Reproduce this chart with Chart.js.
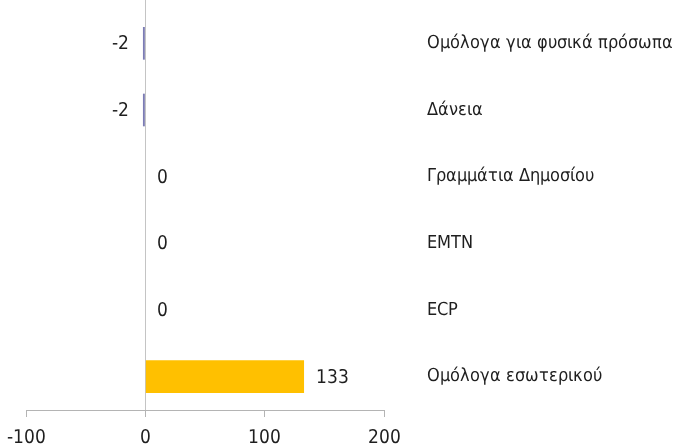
<!DOCTYPE html>
<html>
<head>
<meta charset="utf-8">
<script src="https://cdn.jsdelivr.net/npm/chart.js@4"></script>
<style>
  html, body { margin: 0; padding: 0; background: #fff; }
  #wrap { width: 676px; height: 448px; }
</style>
</head>
<body>
<div id="wrap"><canvas id="c" width="676" height="448"></canvas></div>
<script>
// κατηγορίες (από πάνω προς τα κάτω)
const categories = [
  "Ομόλογα για φυσικά πρόσωπα",
  "Δάνεια",
  "Γραμμάτια Δημοσίου",
  "EMTN",
  "ECP",
  "Ομόλογα εσωτερικού",
];
const values = [-2, -2, 0, 0, 0, 133];
const xTicks = [-100, 0, 100, 200];

const barColors = ["#7c7cb4", "#7c7cb4", "#7c7cb4", "#7c7cb4", "#7c7cb4", "#ffc000"];
const TEXT = "#1e1e1e";
const AXIS = "#b4b4b4";

// στενή γραμματοσειρά αν υπάρχει, αλλιώς DejaVu
const fontCandidates = [
  ["CondDV", "local('DejaVu Sans Condensed'), local('DejaVuSansCondensed')", 19, 18],
];

async function pickFont() {
  for (const [name, src, num, cat] of fontCandidates) {
    try {
      const f = new FontFace(name, src);
      await f.load();
      document.fonts.add(f);
      return { family: name, num, cat };
    } catch (e) {
      // δεν βρέθηκε
    }
  }
  return { family: "DejaVu Sans", num: 17, cat: 16 };
}

function draw(font) {
  // γραμμή του μηδενός, από την κορυφή ως τον άξονα
  const zeroLine = {
    id: "zeroLine",
    beforeDatasetsDraw(chart) {
      const x = Math.round(chart.scales.x.getPixelForValue(0)) + 0.5;
      const ctx = chart.ctx;
      ctx.save();
      ctx.strokeStyle = "#c4c4c4";
      ctx.lineWidth = 1;
      ctx.beginPath();
      ctx.moveTo(x, 0);
      ctx.lineTo(x, chart.chartArea.bottom);
      ctx.stroke();
      ctx.restore();
    },
  };

  // ετικέτες τιμών δίπλα στις μπάρες
  const valueLabels = {
    id: "valueLabels",
    afterDatasetsDraw(chart) {
      const ctx = chart.ctx;
      const meta = chart.getDatasetMeta(0);
      ctx.save();
      ctx.font = font.num + "px " + font.family;
      ctx.fillStyle = TEXT;
      ctx.textBaseline = "middle";
      meta.data.forEach((bar, i) => {
        const v = values[i];
        if (v < 0) {
          ctx.textAlign = "right";
          ctx.fillText(String(v), bar.x - 14, bar.y + 1);
        } else {
          ctx.textAlign = "left";
          ctx.fillText(String(v), bar.x + 12, bar.y + 1);
        }
      });
      ctx.restore();
    },
  };

  new Chart(document.getElementById("c"), {
    type: "bar",
    data: {
      labels: categories,
      datasets: [{
        data: values,
        backgroundColor: barColors,
        borderWidth: 0,
        categoryPercentage: 1,
        barPercentage: 0.49,
      }],
    },
    options: {
      indexAxis: "y",
      responsive: false,
      animation: false,
      layout: { padding: { left: 26, top: 10, right: 0, bottom: 0 } },
      plugins: {
        legend: { display: false },
        tooltip: { enabled: false },
      },
      scales: {
        x: {
          type: "linear",
          position: "bottom",
          min: xTicks[0],
          max: xTicks[xTicks.length - 1],
          afterBuildTicks: (scale) => {
            scale.ticks = xTicks.map((v) => ({ value: v }));
          },
          afterFit: (scale) => {
            scale.height = 38;
            scale.paddingLeft = 0;
            scale.paddingRight = 0;
          },
          grid: {
            drawOnChartArea: false,
            drawTicks: true,
            tickLength: 7,
            color: AXIS,
          },
          border: { display: true, color: AXIS, width: 1 },
          ticks: {
            padding: 12,
            color: TEXT,
            font: { family: font.family, size: font.num, lineHeight: 1 },
            maxRotation: 0,
          },
        },
        y: {
          position: "right",
          grid: { display: false, drawTicks: true, tickLength: 43 },
          border: { display: false },
          afterFit: (scale) => {
            scale.width = 292;
          },
          ticks: {
            padding: 0,
            color: TEXT,
            font: { family: font.family, size: font.cat, lineHeight: 1 },
            autoSkip: false,
          },
        },
      },
    },
    plugins: [zeroLine, valueLabels],
  });
}

pickFont().then(draw);
</script>
</body>
</html>
